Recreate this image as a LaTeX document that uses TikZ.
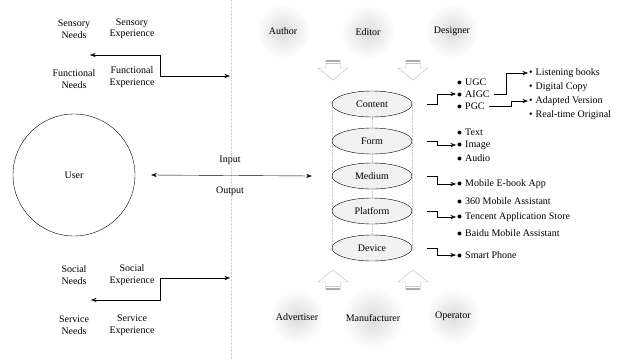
\documentclass[tikz,border=0pt]{standalone}
\usepackage{fontspec}
\setmainfont{Liberation Serif}
\usetikzlibrary{arrows.meta,positioning,calc,shapes.geometric,backgrounds}

\newcommand{\bul}{$\bullet$\hspace{3pt}}
\newcommand{\sbul}{\textbullet\hspace{3pt}}

\tikzset{
  pics/blockdown/.style={code={
    \draw[gray!55, fill=white] (-7.5,-20) -- (7.5,-20) -- (7.5,-12) -- (15,-12)
      -- (0,0) -- (-15,-12) -- (-7.5,-12) -- cycle;
    \draw[gray!65, line width=1.6pt] (-7,-19) -- (7,-19);
    \draw[gray!45] (-7,-16.5) -- (7,-16.5);
  }}
}

\begin{document}
\begin{tikzpicture}[
  x=1pt, y=-1pt,
  >={Stealth[length=5.5pt,width=4pt]},
  every node/.style={font=\fontsize{10}{11.5}\selectfont},
  twoline/.style={align=center, inner sep=1pt},
  glow/.style={circle, minimum size=54pt, shading=radial,
               inner color=gray!28, outer color=white},
  layer/.style={draw, ellipse, minimum width=80pt, minimum height=26pt,
                inner sep=0pt, fill=gray!10},
  item/.style={anchor=west, inner sep=1pt},
  guide/.style={gray!40, densely dotted},
]
\useasboundingbox (0,0) rectangle (618,359);

% user side
\node[draw, circle, minimum size=122pt] (user) at (74,175) {User};
\node[twoline] (sensN) at (74,29)  {Sensory\\Needs};
\node[twoline] (sensE) at (132,29) {Sensory\\Experience};
\node[twoline] (funcN) at (74,79)  {Functional\\Needs};
\node[twoline] (funcE) at (132,77) {Functional\\Experience};
\node[twoline] (socN)  at (74,275) {Social\\Needs};
\node[twoline] (socE)  at (132,275) {Social\\Experience};
\node[twoline] (servN) at (74,325) {Service\\Needs};
\node[twoline] (servE) at (132,325) {Service\\Experience};

\coordinate (needtop) at (90,55);
\coordinate (jointop) at (160,76);
\coordinate (exptop)  at (230,76);
\coordinate (needbot) at (91,300);
\coordinate (joinbot) at (160,278);
\coordinate (expbot)  at (230,278);
\draw[<->] (needtop) -| (jointop) -- (exptop);
\draw[<->] (needbot) -| (joinbot) -- (expbot);

\draw[gray!35, densely dotted] (231,0) -- (231,359);

% product layers
\node[layer] (content)  at (372,104) {Content};
\node[layer] (form)     at (372,141) {Form};
\node[layer] (medium)   at (372,176) {Medium};
\node[layer] (platform) at (372,211) {Platform};
\node[layer] (device)   at (372,248) {Device};
\begin{scope}[on background layer]
  \draw[guide] (content.west) -- (device.west);
  \draw[guide] (content.center) -- (device.center);
  \draw[guide] (content.east) -- (device.east);
\end{scope}

\draw[<->] ([xshift=16pt]user.east) -- ([xshift=-20pt]medium.west);
\node (input)  at (230,160) {Input};
\node (output) at (230,191) {Output};

% roles
\node[glow] (author)   at (283,31) {Author};
\node[glow] (editor)   at (368,32) {Editor};
\node[glow] (designer) at (452,31) {Designer};
\node[glow] (advert)   at (297,317) {Advertiser};
\node[glow] (maker)    at (373,318) {Manufacturer};
\node[glow] (operator) at (453,316) {Operator};
\pic at (333,80)  {blockdown};
\pic at (413,80)  {blockdown};
\pic[yscale=-1] at (333,270) {blockdown};
\pic[yscale=-1] at (413,270) {blockdown};

% items
\node[item] (ugc)    at (456,82)  {\bul UGC};
\node[item] (aigc)   at (456,94)  {\bul AIGC};
\node[item] (pgc)    at (456,106) {\bul PGC};
\node[item] (text)   at (456,132) {\bul Text};
\node[item] (image)  at (456,145) {\bul Image};
\node[item] (audio)  at (456,158) {\bul Audio};
\node[item] (ebook)  at (456,184) {\bul Mobile E-book App};
\node[item] (qihoo)  at (456,201) {\bul 360 Mobile Assistant};
\node[item] (tencent) at (456,217) {\bul Tencent Application Store};
\node[item] (baidu)  at (456,233) {\bul Baidu Mobile Assistant};
\node[item] (phone)  at (456,255) {\bul Smart Phone};

\node[item] (listen)  at (528,73)  {\sbul Listening books};
\node[item] (digital) at (528,87)  {\sbul Digital Copy};
\node[item] (adapted) at (528,101) {\sbul Adapted Version};
\node[item] (realtime) at (528,115) {\sbul Real-time Original};

\draw[->] ([xshift=15pt]content.east) -- ++(10,0) |- (aigc.west);
\draw[->] ([xshift=15pt]form.east) -- ++(10,0) |- (image.west);
\draw[->] ([xshift=15pt]medium.east) -- ++(10,0) |- (ebook.west);
\draw[->] ([xshift=15pt]platform.east) -- ++(10,0) |- (tencent.west);
\draw[->] ([xshift=15pt]device.east) -- ++(10,0) |- (phone.west);
\draw[->] ([xshift=3pt]aigc.east) -- ++(12,0) |- (listen.west);
\draw[->] ([xshift=3pt]pgc.east) -- ++(22,0) |- (adapted.west);
\end{tikzpicture}
\end{document}
